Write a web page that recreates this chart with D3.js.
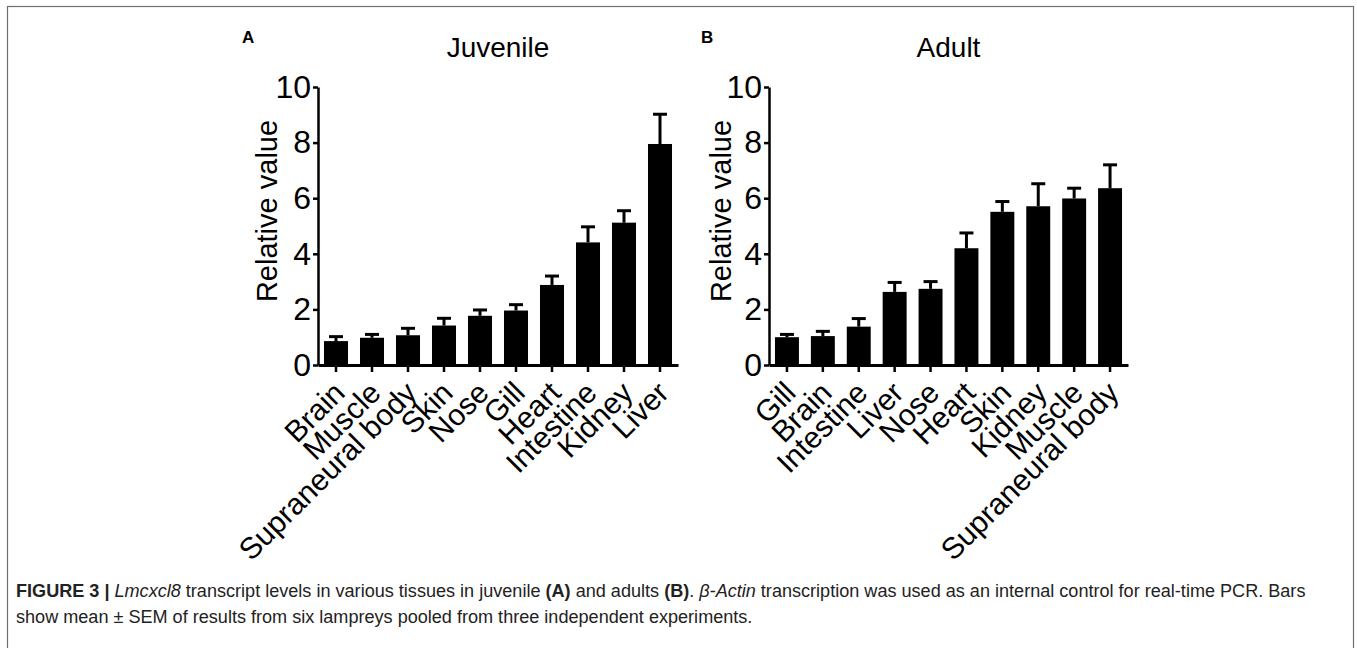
<!DOCTYPE html>
<html>
<head>
<meta charset="utf-8">
<script src="https://cdn.jsdelivr.net/npm/d3@7"></script>
<style>
  body { margin: 0; background: #fff; }
  svg { display: block; font-family: "Liberation Sans", Arial, Helvetica, sans-serif; }
</style>
</head>
<body>
<div id="figure"></div>
<script>
// Values (mean and upper SEM)
const juvenileTissues = ["Brain", "Muscle", "Supraneural body", "Skin", "Nose", "Gill", "Heart", "Intestine", "Kidney", "Liver"];
const juvenileMean = [0.86, 0.98, 1.07, 1.42, 1.77, 1.96, 2.88, 4.41, 5.12, 7.95];
const juvenileSem = [0.16, 0.12, 0.25, 0.26, 0.21, 0.21, 0.32, 0.56, 0.43, 1.07];

const adultTissues = ["Gill", "Brain", "Intestine", "Liver", "Nose", "Heart", "Skin", "Kidney", "Muscle", "Supraneural body"];
const adultMean = [1.0, 1.04, 1.38, 2.63, 2.74, 4.2, 5.51, 5.71, 5.99, 6.36];
const adultSem = [0.1, 0.17, 0.29, 0.34, 0.26, 0.55, 0.37, 0.81, 0.37, 0.84];

const yTicks = [0, 2, 4, 6, 8, 10];

const W = 1357, H = 648;

const svg = d3.select("#figure")
  .append("svg")
  .attr("width", W)
  .attr("height", H);

// frame around the figure
svg.append("rect")
  .attr("x", 7.5).attr("y", 6.5)
  .attr("width", 1346).attr("height", 700)
  .attr("fill", "none")
  .attr("stroke", "#707070")
  .attr("stroke-width", 1.2);

function drawPanel(opts) {
  const { letter, title, tissues, mean, sem, x0, x1, letterX, labelX } = opts;
  const yTop = 87, yBottom = 365;

  const x = d3.scaleBand()
    .domain(tissues)
    .range([x0, x1])
    .paddingInner(0.333)
    .paddingOuter(0.1665);

  const y = d3.scaleLinear()
    .domain([0, 10])
    .range([yBottom, yTop]);

  const g = svg.append("g");

  const rows = tissues.map((t, i) => ({ tissue: t, mean: mean[i], sem: sem[i] }));

  // Error bars (upper only)
  const err = g.append("g")
    .attr("stroke", "#000")
    .attr("stroke-width", 3);

  err.selectAll("line.v")
    .data(rows)
    .enter()
    .append("line")
    .attr("x1", d => x(d.tissue) + x.bandwidth() / 2)
    .attr("x2", d => x(d.tissue) + x.bandwidth() / 2)
    .attr("y1", d => y(d.mean))
    .attr("y2", d => y(d.mean + d.sem));

  err.selectAll("line.cap")
    .data(rows)
    .enter()
    .append("line")
    .attr("x1", d => x(d.tissue) + x.bandwidth() / 2 - 7)
    .attr("x2", d => x(d.tissue) + x.bandwidth() / 2 + 7)
    .attr("y1", d => y(d.mean + d.sem))
    .attr("y2", d => y(d.mean + d.sem));

  // Bars
  g.append("g")
    .selectAll("rect")
    .data(rows)
    .enter()
    .append("rect")
    .attr("x", d => x(d.tissue))
    .attr("y", d => y(d.mean))
    .attr("width", x.bandwidth())
    .attr("height", d => y(0) - y(d.mean))
    .attr("fill", "#000");

  // Y axis
  const yAxis = g.append("g")
    .attr("transform", `translate(${x0},0)`)
    .call(d3.axisLeft(y).tickValues(yTicks).tickFormat(d3.format("d")).tickSize(5).tickSizeOuter(0).tickPadding(2));
  yAxis.select(".domain").attr("stroke-width", 2.5);
  yAxis.selectAll(".tick line").attr("stroke-width", 2.5);
  yAxis.selectAll(".tick text")
    .attr("font-size", 32)
    .attr("font-family", "Liberation Sans, Arial, sans-serif")
    .attr("fill", "#000");

  // X axis
  const xAxis = g.append("g")
    .attr("transform", `translate(0,${yBottom})`)
    .call(d3.axisBottom(x).tickSize(7).tickSizeOuter(0));
  xAxis.select(".domain").attr("stroke-width", 3);
  xAxis.selectAll(".tick line").attr("stroke-width", 2.5);
  xAxis.selectAll(".tick text")
    .attr("font-size", 30)
    .attr("font-family", "Liberation Sans, Arial, sans-serif")
    .attr("fill", "#000")
    .attr("text-anchor", "end")
    .attr("dy", null)
    .attr("y", null)
    .attr("transform", "translate(5,24) rotate(-45)")
    .attr("dominant-baseline", "middle");

  // Y axis label
  g.append("text")
    .attr("transform", `translate(${labelX},${211}) rotate(-90)`)
    .attr("text-anchor", "middle")
    .attr("font-size", 29)
    .text("Relative value");

  // Title
  g.append("text")
    .attr("x", (x0 + x1) / 2)
    .attr("y", 56.5)
    .attr("text-anchor", "middle")
    .attr("font-size", 28)
    .text(title);

  // Panel letter
  g.append("text")
    .attr("x", letterX)
    .attr("y", 43)
    .attr("font-size", 17)
    .attr("font-weight", "bold")
    .text(letter);
}

drawPanel({
  letter: "A", title: "Juvenile",
  tissues: juvenileTissues, mean: juvenileMean, sem: juvenileSem,
  x0: 318, x1: 678, letterX: 242, labelX: 277
});

drawPanel({
  letter: "B", title: "Adult",
  tissues: adultTissues, mean: adultMean, sem: adultSem,
  x0: 769, x1: 1128, letterX: 701, labelX: 731
});

// Caption
const cap = svg.append("g").attr("fill", "#222");
const line1 = cap.append("text").attr("x", 16).attr("y", 597).attr("font-size", 15);
line1.append("tspan").attr("font-weight", "bold").text("FIGURE 3 | ");
line1.append("tspan").attr("font-style", "italic").text("Lmcxcl8");
line1.append("tspan").text(" transcript levels in various tissues in juvenile ");
line1.append("tspan").attr("font-weight", "bold").text("(A)");
line1.append("tspan").text(" and adults ");
line1.append("tspan").attr("font-weight", "bold").text("(B)");
line1.append("tspan").text(". ");
line1.append("tspan").attr("font-style", "italic").text("β-Actin");
line1.append("tspan").text(" transcription was used as an internal control for real-time PCR. Bars");

const line2 = cap.append("text").attr("x", 16).attr("y", 623).attr("font-size", 15)
  .text("show mean ± SEM of results from six lampreys pooled from three independent experiments.");

// fit caption width to the figure's text block
const natural = line1.node().getComputedTextLength();
const fs = 15 * 1290 / natural;
line1.attr("font-size", fs);
line2.attr("font-size", fs);
</script>
</body>
</html>
